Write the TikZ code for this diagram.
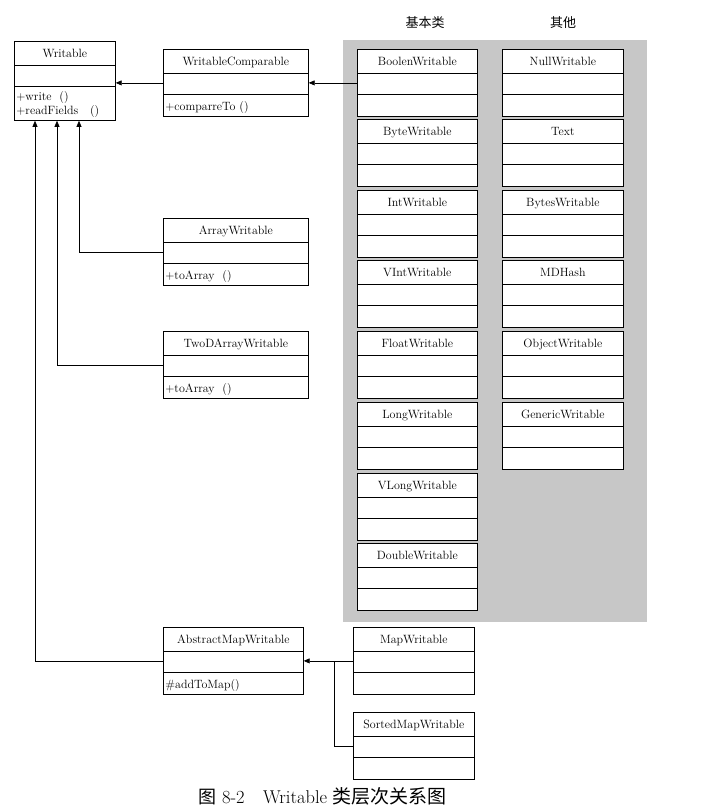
\documentclass[tikz,border=0pt]{standalone}
\usepackage{fontspec}
\newfontfamily\cjk{Noto Sans CJK SC}
\usetikzlibrary{shapes.multipart,arrows.meta}
\tikzset{
  cls/.style={draw, line width=0.7pt, fill=white, rectangle split, rectangle split parts=3,
    rectangle split part align={center,left,left}, inner xsep=2pt, inner ysep=0pt,
    anchor=north west, font=\fontsize{12}{14}\selectfont},
  gen/.style={-{Triangle[length=6pt,width=5pt]}, line width=0.7pt},
  grp/.style={font=\cjk\fontsize{13}{15}\selectfont}
}
\newcommand{\hd}{\rule[-7pt]{0pt}{23pt}}
\newcommand{\rw}{\rule[-6pt]{0pt}{21pt}}
\begin{document}
\begin{tikzpicture}[x=1pt,y=-1pt]
\useasboundingbox (0,0) rectangle (701,812);
% shaded group
\fill[black!22] (343,40) rectangle (647,622);
\node[grp] (lbasic) at (425,23) {基本类};
\node[grp] (lother) at (563,23) {其他};
% interfaces and abstract classes
\node[cls, minimum width=101pt] (writable) at (14,41) {\hd Writable \nodepart{two}\rw
  \nodepart{three}\begin{tabular}{@{}l@{}}\rule{0pt}{13pt}+write\ \ ()\\+readFields\ \ \ ()\rule[-6pt]{0pt}{0pt}\end{tabular}};
\node[cls, minimum width=145pt] (wc) at (163,49) {\hd WritableComparable \nodepart{two}\rw \nodepart{three}\rw +comparreTo ()};
\node[cls, minimum width=145pt] (array) at (163,218) {\hd ArrayWritable \nodepart{two}\rw \nodepart{three}\rw +toArray\ \ ()};
\node[cls, minimum width=145pt] (twod) at (163,331) {\hd TwoDArrayWritable \nodepart{two}\rw \nodepart{three}\rw +toArray\ \ ()};
\node[cls, minimum width=140pt] (amw) at (163,627) {\hd AbstractMapWritable \nodepart{two}\rw \nodepart{three}\rw \#addToMap()};
% basic types
\node[cls, minimum width=120pt] (bool) at (357,49) {\hd BoolenWritable \nodepart{two}\rw \nodepart{three}\rw};
\node[cls, minimum width=120pt] (byte) at (357,119) {\hd ByteWritable \nodepart{two}\rw \nodepart{three}\rw};
\node[cls, minimum width=120pt] (int) at (357,190) {\hd IntWritable \nodepart{two}\rw \nodepart{three}\rw};
\node[cls, minimum width=120pt] (vint) at (357,260) {\hd VIntWritable \nodepart{two}\rw \nodepart{three}\rw};
\node[cls, minimum width=120pt] (float) at (357,331) {\hd FloatWritable \nodepart{two}\rw \nodepart{three}\rw};
\node[cls, minimum width=120pt] (long) at (357,402) {\hd LongWritable \nodepart{two}\rw \nodepart{three}\rw};
\node[cls, minimum width=120pt] (vlong) at (357,473) {\hd VLongWritable \nodepart{two}\rw \nodepart{three}\rw};
\node[cls, minimum width=120pt] (double) at (357,543) {\hd DoubleWritable \nodepart{two}\rw \nodepart{three}\rw};
% others
\node[cls, minimum width=121pt] (null) at (502,49) {\hd NullWritable \nodepart{two}\rw \nodepart{three}\rw};
\node[cls, minimum width=121pt] (text) at (502,119) {\hd Text \nodepart{two}\rw \nodepart{three}\rw};
\node[cls, minimum width=121pt] (bytes) at (502,190) {\hd BytesWritable \nodepart{two}\rw \nodepart{three}\rw};
\node[cls, minimum width=121pt] (md) at (502,260) {\hd MDHash \nodepart{two}\rw \nodepart{three}\rw};
\node[cls, minimum width=121pt] (object) at (502,331) {\hd ObjectWritable \nodepart{two}\rw \nodepart{three}\rw};
\node[cls, minimum width=121pt] (generic) at (502,402) {\hd GenericWritable \nodepart{two}\rw \nodepart{three}\rw};
% maps
\node[cls, minimum width=121pt] (map) at (353,627) {\hd MapWritable \nodepart{two}\rw \nodepart{three}\rw};
\node[cls, minimum width=121pt] (sorted) at (353,712) {\hd SortedMapWritable \nodepart{two}\rw \nodepart{three}\rw};
% inheritance
\draw[gen] (wc.west) -- (wc.west -| writable.east);
\draw[gen] (bool.west) -- (wc.east);
\draw[gen] (array.west) -| ([xshift=65pt]writable.south west);
\draw[gen] (twod.west) -| ([xshift=43pt]writable.south west);
\draw[gen] (amw.west) -| ([xshift=21pt]writable.south west);
\draw[gen] (map.west) -- (amw.east);
\coordinate (jn) at ([xshift=-19pt]map.west);
\draw[line width=0.7pt] (sorted.west) -| (jn);
% caption
\node[anchor=west, font=\fontsize{18.5}{21}\selectfont] (cap) at (195,796)
  {{\cjk\fontsize{18}{21}\selectfont 图} 8-2\hspace{1em}Writable {\cjk\fontsize{19}{21}\selectfont 类层次关系图}};
\end{tikzpicture}
\end{document}
